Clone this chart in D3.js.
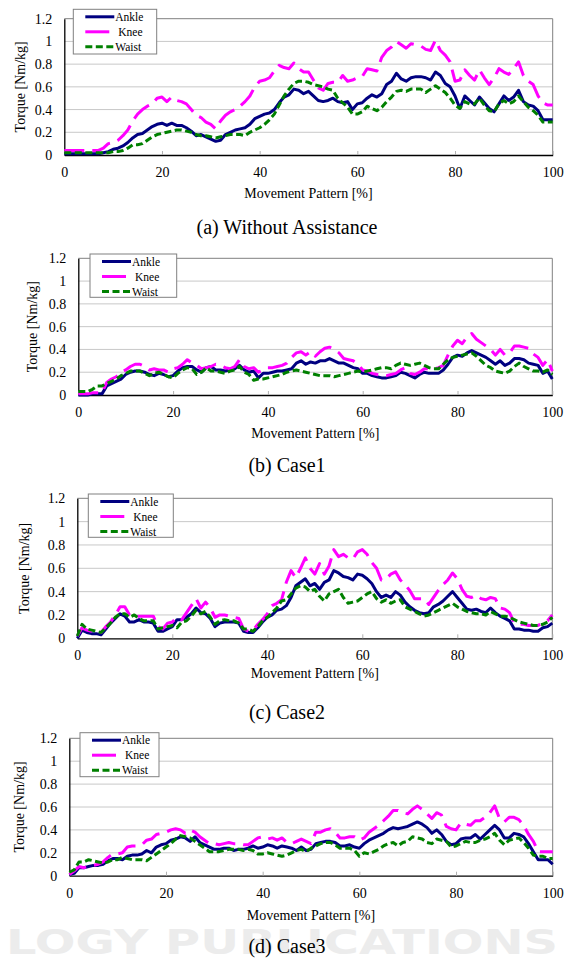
<!DOCTYPE html>
<html>
<head>
<meta charset="utf-8">
<script src="https://cdn.jsdelivr.net/npm/d3@7"></script>
<style>
  body { margin: 0; background: #fff; }
  svg { display: block; }
  text { font-family: "Liberation Serif", "Times New Roman", serif; fill: #000; }
</style>
</head>
<body>
<div id="chart"></div>
<script>
// ─── DATA (torque in Nm/kg at every 1% of the movement pattern) ───
const pct = d3.range(0, 101);
const yTicks = [0, 0.2, 0.4, 0.6, 0.8, 1, 1.2];
const xTicks = [0, 20, 40, 60, 80, 100];
const seriesNames = ["Ankle", "Knee", "Waist"];
const captions = ["(a) Without Assistance", "(b) Case1", "(c) Case2", "(d) Case3"];

const ankleA = [0.01,0.01,0.01,0.01,0.01,0.01,0.01,0.01,0.02,0.03,
  0.05,0.06,0.08,0.11,0.15,0.18,0.19,0.22,0.25,0.27,
  0.28,0.26,0.28,0.26,0.26,0.24,0.21,0.17,0.18,0.16,
  0.14,0.12,0.13,0.18,0.20,0.22,0.23,0.24,0.27,0.32,
  0.34,0.36,0.37,0.40,0.46,0.51,0.53,0.58,0.57,0.54,
  0.56,0.52,0.48,0.47,0.48,0.50,0.47,0.46,0.47,0.40,
  0.45,0.46,0.50,0.53,0.51,0.54,0.62,0.65,0.72,0.67,
  0.65,0.68,0.69,0.69,0.68,0.66,0.73,0.70,0.63,0.60,
  0.52,0.41,0.52,0.48,0.44,0.51,0.46,0.41,0.38,0.45,
  0.52,0.48,0.51,0.57,0.47,0.44,0.43,0.39,0.31,0.31,
  0.31];
const kneeA = [0.04,0.04,0.04,0.04,0.04,0.04,0.04,0.04,0.06,0.10,
  0.11,0.13,0.17,0.22,0.30,0.36,0.40,0.43,0.45,0.50,
  0.51,0.47,0.51,0.48,0.47,0.45,0.40,0.35,0.33,0.29,
  0.27,0.23,0.30,0.35,0.38,0.40,0.43,0.47,0.52,0.60,
  0.65,0.66,0.68,0.74,0.79,0.77,0.76,0.81,0.76,0.73,
  0.73,0.66,0.59,0.57,0.63,0.64,0.64,0.70,0.65,0.66,
  0.68,0.69,0.76,0.75,0.74,0.86,0.92,0.95,1.00,0.97,
  0.94,0.98,0.97,0.96,0.93,0.92,1.01,0.92,0.88,0.82,
  0.65,0.66,0.75,0.70,0.66,0.75,0.68,0.62,0.68,0.76,
  0.73,0.71,0.76,0.82,0.70,0.65,0.62,0.52,0.46,0.44,
  0.44];
const waistA = [0.02,0.02,0.02,0.02,0.02,0.02,0.02,0.02,0.02,0.02,
  0.03,0.03,0.04,0.06,0.09,0.09,0.10,0.13,0.16,0.18,
  0.19,0.20,0.21,0.22,0.22,0.21,0.20,0.18,0.17,0.17,
  0.16,0.15,0.16,0.17,0.18,0.18,0.18,0.17,0.20,0.22,
  0.24,0.27,0.31,0.36,0.44,0.52,0.58,0.63,0.65,0.65,
  0.64,0.62,0.61,0.60,0.58,0.57,0.50,0.46,0.42,0.36,
  0.36,0.38,0.43,0.41,0.39,0.42,0.47,0.51,0.56,0.57,
  0.56,0.58,0.58,0.58,0.55,0.58,0.61,0.58,0.55,0.50,
  0.44,0.41,0.47,0.45,0.45,0.50,0.44,0.39,0.38,0.45,
  0.48,0.45,0.47,0.52,0.47,0.42,0.39,0.35,0.29,0.29,
  0.29];

const ankleB = [0.00,0.00,0.00,0.01,0.01,0.01,0.08,0.10,0.12,0.14,
  0.18,0.20,0.21,0.21,0.20,0.18,0.17,0.19,0.18,0.16,
  0.17,0.21,0.24,0.25,0.25,0.22,0.20,0.24,0.25,0.22,
  0.22,0.21,0.22,0.23,0.26,0.22,0.20,0.21,0.15,0.19,
  0.19,0.20,0.21,0.21,0.22,0.23,0.28,0.30,0.27,0.29,
  0.28,0.30,0.30,0.32,0.30,0.28,0.28,0.26,0.24,0.23,
  0.19,0.19,0.17,0.16,0.15,0.15,0.16,0.17,0.20,0.19,
  0.17,0.15,0.18,0.20,0.19,0.19,0.19,0.22,0.27,0.33,
  0.35,0.34,0.37,0.39,0.37,0.35,0.33,0.30,0.27,0.30,
  0.26,0.28,0.32,0.32,0.31,0.28,0.27,0.26,0.19,0.21,
  0.14];
const kneeB = [0.01,0.01,0.01,0.02,0.02,0.02,0.11,0.14,0.16,0.20,
  0.22,0.25,0.27,0.27,0.25,0.22,0.23,0.22,0.22,0.20,
  0.23,0.24,0.27,0.31,0.28,0.26,0.23,0.24,0.25,0.27,
  0.26,0.24,0.23,0.25,0.31,0.25,0.23,0.24,0.20,0.22,
  0.24,0.24,0.25,0.26,0.28,0.33,0.37,0.38,0.35,0.38,
  0.34,0.38,0.41,0.42,0.40,0.37,0.32,0.31,0.30,0.27,
  0.22,0.21,0.19,0.18,0.17,0.17,0.18,0.19,0.22,0.24,
  0.19,0.18,0.20,0.23,0.23,0.23,0.24,0.26,0.35,0.43,
  0.48,0.45,0.51,0.54,0.49,0.46,0.43,0.40,0.35,0.40,
  0.35,0.37,0.43,0.43,0.42,0.41,0.36,0.33,0.26,0.31,
  0.21];
const waistB = [0.03,0.03,0.03,0.05,0.08,0.08,0.10,0.12,0.14,0.17,
  0.19,0.21,0.21,0.21,0.19,0.17,0.19,0.20,0.18,0.16,
  0.15,0.19,0.22,0.24,0.23,0.18,0.20,0.24,0.21,0.21,
  0.20,0.19,0.21,0.22,0.25,0.20,0.18,0.13,0.14,0.14,
  0.15,0.16,0.17,0.18,0.20,0.21,0.22,0.21,0.20,0.19,
  0.18,0.17,0.17,0.17,0.16,0.17,0.18,0.19,0.20,0.21,
  0.20,0.21,0.22,0.23,0.24,0.24,0.23,0.26,0.28,0.27,
  0.26,0.27,0.28,0.26,0.24,0.23,0.23,0.27,0.31,0.33,
  0.34,0.35,0.36,0.37,0.34,0.30,0.26,0.24,0.21,0.20,
  0.19,0.21,0.25,0.28,0.25,0.23,0.21,0.21,0.20,0.22,
  0.18];

const ankleC = [0.00,0.07,0.05,0.04,0.04,0.03,0.08,0.13,0.17,0.21,
  0.19,0.14,0.14,0.16,0.14,0.14,0.13,0.06,0.06,0.08,
  0.10,0.16,0.16,0.18,0.21,0.26,0.22,0.21,0.17,0.10,
  0.13,0.14,0.14,0.14,0.13,0.06,0.05,0.05,0.09,0.14,
  0.18,0.20,0.24,0.25,0.28,0.35,0.45,0.48,0.51,0.45,
  0.47,0.42,0.48,0.50,0.58,0.56,0.53,0.52,0.50,0.55,
  0.54,0.51,0.47,0.40,0.35,0.37,0.35,0.40,0.37,0.31,
  0.27,0.24,0.22,0.21,0.22,0.27,0.29,0.32,0.36,0.40,
  0.35,0.30,0.25,0.24,0.25,0.23,0.22,0.26,0.22,0.19,
  0.17,0.15,0.08,0.08,0.07,0.07,0.06,0.06,0.09,0.10,
  0.13];
const kneeC = [0.02,0.09,0.07,0.06,0.05,0.05,0.10,0.14,0.20,0.27,
  0.27,0.20,0.18,0.19,0.19,0.19,0.19,0.10,0.08,0.13,
  0.14,0.18,0.16,0.22,0.28,0.34,0.26,0.31,0.26,0.18,
  0.20,0.20,0.19,0.18,0.17,0.08,0.06,0.07,0.12,0.16,
  0.21,0.28,0.30,0.33,0.48,0.58,0.52,0.60,0.69,0.60,
  0.55,0.64,0.55,0.62,0.76,0.70,0.72,0.69,0.68,0.74,
  0.76,0.72,0.65,0.60,0.50,0.51,0.55,0.57,0.50,0.46,
  0.41,0.34,0.34,0.34,0.29,0.35,0.41,0.46,0.50,0.56,
  0.51,0.42,0.36,0.35,0.37,0.34,0.33,0.35,0.34,0.26,
  0.25,0.22,0.13,0.12,0.12,0.11,0.11,0.11,0.13,0.15,
  0.20];
const waistC = [0.02,0.12,0.08,0.07,0.06,0.05,0.09,0.13,0.18,0.21,
  0.21,0.18,0.20,0.17,0.15,0.15,0.15,0.08,0.09,0.10,
  0.11,0.09,0.14,0.15,0.19,0.24,0.21,0.23,0.18,0.12,
  0.15,0.16,0.15,0.15,0.13,0.08,0.08,0.06,0.10,0.15,
  0.18,0.22,0.26,0.32,0.33,0.38,0.43,0.45,0.44,0.40,
  0.42,0.36,0.32,0.38,0.40,0.42,0.35,0.30,0.31,0.32,
  0.35,0.38,0.40,0.34,0.31,0.33,0.30,0.32,0.33,0.27,
  0.25,0.23,0.21,0.19,0.20,0.22,0.24,0.26,0.28,0.30,
  0.27,0.25,0.23,0.22,0.21,0.21,0.20,0.23,0.21,0.19,
  0.19,0.18,0.16,0.14,0.13,0.12,0.11,0.11,0.12,0.14,
  0.18];

const ankleD = [0.01,0.02,0.07,0.07,0.08,0.09,0.09,0.10,0.13,0.15,
  0.15,0.14,0.17,0.18,0.18,0.19,0.22,0.20,0.25,0.27,
  0.28,0.31,0.32,0.34,0.33,0.30,0.34,0.29,0.27,0.25,
  0.23,0.23,0.24,0.24,0.22,0.23,0.23,0.24,0.26,0.24,
  0.25,0.27,0.26,0.24,0.26,0.25,0.24,0.22,0.25,0.22,
  0.23,0.28,0.29,0.30,0.30,0.29,0.26,0.26,0.27,0.25,
  0.24,0.28,0.31,0.33,0.35,0.37,0.40,0.42,0.41,0.42,
  0.43,0.45,0.47,0.45,0.42,0.37,0.40,0.36,0.30,0.27,
  0.28,0.32,0.33,0.33,0.36,0.32,0.36,0.40,0.44,0.40,
  0.33,0.33,0.37,0.36,0.34,0.28,0.21,0.14,0.14,0.14,
  0.10];
const kneeD = [0.01,0.04,0.08,0.07,0.08,0.09,0.10,0.12,0.16,0.19,
  0.19,0.20,0.25,0.26,0.26,0.27,0.31,0.32,0.36,0.37,
  0.38,0.40,0.41,0.40,0.37,0.40,0.38,0.34,0.31,0.28,
  0.28,0.27,0.28,0.29,0.28,0.28,0.27,0.27,0.30,0.33,
  0.34,0.32,0.33,0.31,0.33,0.29,0.28,0.30,0.32,0.30,
  0.28,0.38,0.38,0.40,0.41,0.38,0.33,0.33,0.34,0.34,
  0.31,0.33,0.38,0.41,0.44,0.48,0.52,0.57,0.57,0.55,
  0.54,0.58,0.61,0.58,0.54,0.50,0.55,0.53,0.43,0.41,
  0.40,0.46,0.45,0.44,0.48,0.48,0.51,0.55,0.61,0.50,
  0.47,0.51,0.51,0.49,0.44,0.36,0.30,0.21,0.21,0.21,
  0.21];
const waistD = [0.03,0.05,0.12,0.12,0.14,0.13,0.12,0.11,0.12,0.14,
  0.14,0.16,0.15,0.14,0.14,0.14,0.13,0.16,0.19,0.22,
  0.25,0.28,0.32,0.35,0.34,0.33,0.30,0.27,0.24,0.21,
  0.21,0.21,0.22,0.23,0.23,0.23,0.22,0.23,0.22,0.19,
  0.19,0.20,0.19,0.18,0.17,0.18,0.20,0.22,0.23,0.21,
  0.24,0.26,0.28,0.29,0.29,0.27,0.24,0.24,0.24,0.22,
  0.17,0.20,0.19,0.21,0.23,0.26,0.28,0.29,0.26,0.29,
  0.30,0.34,0.33,0.32,0.29,0.28,0.32,0.31,0.30,0.25,
  0.26,0.28,0.30,0.29,0.29,0.31,0.32,0.34,0.37,0.31,
  0.27,0.31,0.32,0.33,0.29,0.24,0.18,0.17,0.17,0.15,
  0.15];

// ─── STYLE / LAYOUT ───
const serif = "'Liberation Serif', 'Times New Roman', serif";
const lineStyle = {
  Ankle: { color: "#000080", dash: null },
  Knee:  { color: "#ff00ff", dash: "20,8" },
  Waist: { color: "#008000", dash: "7,3.5" }
};

const panels = [
  { series: [ankleA, kneeA, waistA], left: 64.3, right: 552.7, top: 18.7, bottom: 155,
    legend: { x: 73.3, y: 9.3, w: 83.4, h: 44.7 }, yTitleX: 20, xTitleY: 193, captionY: 227 },
  { series: [ankleB, kneeB, waistB], left: 78.3, right: 552.3, top: 258.3, bottom: 395,
    legend: { x: 90, y: 254, w: 86.7, h: 43.3 }, yTitleX: 32, xTitleY: 433, captionY: 465 },
  { series: [ankleC, kneeC, waistC], left: 77.3, right: 552.3, top: 498.3, bottom: 638.3,
    legend: { x: 88.3, y: 494, w: 85, h: 43.3 }, yTitleX: 24, xTitleY: 673, captionY: 712 },
  { series: [ankleD, kneeD, waistD], left: 69.3, right: 552.7, top: 738.3, bottom: 875.7,
    legend: { x: 80, y: 732.7, w: 79, h: 44 }, yTitleX: 19, xTitleY: 915, captionY: 946 }
];

const width = 571, height = 963;
const svg = d3.select("#chart").append("svg")
  .attr("width", width)
  .attr("height", height);

// faint publisher watermark behind everything
svg.append("text")
  .attr("x", 6).attr("y", 954)
  .attr("textLength", 552)
  .attr("lengthAdjust", "spacingAndGlyphs")
  .style("font-family", "'DejaVu Sans', sans-serif")
  .style("font-weight", "bold")
  .style("font-size", "34px")
  .style("fill", "#ececec")
  .text("LOGY PUBLICATIONS");

panels.forEach((p, pi) => {
  const g = svg.append("g");

  const x = d3.scaleLinear().domain([0, 100]).range([p.left, p.right]);
  const y = d3.scaleLinear().domain([0, 1.2]).range([p.bottom, p.top]);

  // gridlines
  g.append("g")
    .selectAll("line")
    .data(yTicks.filter(v => v > 0 && v < 1.2))
    .join("line")
    .attr("x1", p.left).attr("x2", p.right)
    .attr("y1", d => y(d)).attr("y2", d => y(d))
    .attr("stroke", "#c8c8c8")
    .attr("stroke-width", 1);

  // top / right frame
  g.append("path")
    .attr("d", `M${p.left},${y(1.2)}H${p.right}V${p.bottom}`)
    .attr("fill", "none")
    .attr("stroke", "#808080")
    .attr("stroke-width", 1);

  // y axis
  g.append("g")
    .attr("transform", `translate(${p.left},0)`)
    .attr("font-family", serif)
    .attr("font-size", 14)
    .call(d3.axisLeft(y).tickValues(yTicks).tickSize(0).tickPadding(12).tickFormat(d3.format("~g")))
    .call(a => a.select(".domain").attr("stroke", "#000").attr("stroke-width", 1.3))
    .call(a => a.selectAll("text").style("font-family", serif).style("font-size", "14px"));

  // x axis (ticks point inward)
  g.append("g")
    .attr("transform", `translate(0,${p.bottom})`)
    .attr("font-family", serif)
    .attr("font-size", 14)
    .call(d3.axisBottom(x).tickValues(xTicks).tickSizeInner(-4).tickSizeOuter(0).tickPadding(12))
    .call(a => a.select(".domain").attr("stroke", "#000").attr("stroke-width", 1.3))
    .call(a => a.selectAll(".tick line").attr("stroke", "#b0b0b0"))
    .call(a => a.selectAll("text").style("font-family", serif).style("font-size", "14px"));

  // series lines
  const line = d3.line()
    .x((d, i) => x(pct[i]))
    .y(d => y(d));

  p.series.forEach((vals, si) => {
    const st = lineStyle[seriesNames[si]];
    g.append("path")
      .datum(vals)
      .attr("d", line)
      .attr("fill", "none")
      .attr("stroke", st.color)
      .attr("stroke-width", 3)
      .attr("stroke-linejoin", "round")
      .attr("stroke-dasharray", st.dash);
  });

  // legend
  const lg = g.append("g").attr("transform", `translate(${p.legend.x},${p.legend.y})`);
  lg.append("rect")
    .attr("width", p.legend.w).attr("height", p.legend.h)
    .attr("fill", "#fff")
    .attr("stroke", "#808080")
    .attr("stroke-width", 1);
  seriesNames.forEach((name, si) => {
    const ry = 7.5 + si * 15;
    const st = lineStyle[name];
    lg.append("line")
      .attr("x1", 12).attr("x2", 41)
      .attr("y1", ry).attr("y2", ry)
      .attr("stroke", st.color)
      .attr("stroke-width", 3)
      .attr("stroke-dasharray", name === "Knee" ? "24,8" : st.dash);
    lg.append("text")
      .attr("x", name === "Knee" ? 45 : 42)
      .attr("y", ry)
      .attr("dy", "0.35em")
      .style("font-size", "11.5px")
      .text(name);
  });

  // axis titles
  g.append("text")
    .attr("x", (p.left + p.right) / 2)
    .attr("y", p.xTitleY)
    .attr("dy", "0.35em")
    .attr("text-anchor", "middle")
    .style("font-size", "14px")
    .text("Movement Pattern [%]");

  g.append("text")
    .attr("transform", `translate(${p.yTitleX},${(p.top + p.bottom) / 2}) rotate(-90)`)
    .attr("dy", "0.35em")
    .attr("text-anchor", "middle")
    .style("font-size", "14px")
    .text("Torque [Nm/kg]");

  // caption
  g.append("text")
    .attr("x", 287)
    .attr("y", p.captionY)
    .attr("dy", "0.35em")
    .attr("text-anchor", "middle")
    .style("font-size", "20px")
    .text(captions[pi]);
});
</script>
</body>
</html>
